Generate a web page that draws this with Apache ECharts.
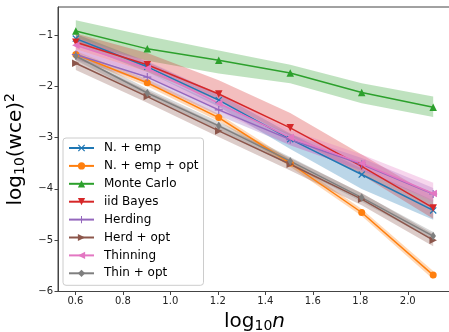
<!DOCTYPE html>
<html><head><meta charset="utf-8">
<script src="https://cdn.jsdelivr.net/npm/echarts@6/dist/echarts.min.js"></script>
<style>html,body{margin:0;padding:0;background:#fff}#c{width:449px;height:332px}</style>
</head><body><div id="c"></div>
<script>
// x positions: log10 n for n = 4, 8, 16, 32, 64, 128
const xs = [0.602, 0.903, 1.204, 1.505, 1.806, 2.107];
const xTicks = [0.6, 0.8, 1.0, 1.2, 1.4, 1.6, 1.8, 2.0];
const yTicks = [-6, -5, -4, -3, -2, -1];

const names = ['N. + emp', 'N. + emp + opt', 'Monte Carlo', 'iid Bayes', 'Herding', 'Herd + opt', 'Thinning', 'Thin + opt'];
const colors = ['#1f77b4', '#ff7f0e', '#2ca02c', '#d62728', '#9467bd', '#8c564b', '#e377c2', '#7f7f7f'];

// means
const nEmp      = [-1.07, -1.62, -2.27, -3.03, -3.72, -4.42];
const nEmpOpt   = [-1.38, -1.93, -2.61, -3.50, -4.46, -5.68];
const monteCarlo= [-0.92, -1.27, -1.49, -1.74, -2.12, -2.41];
const iidBayes  = [-1.14, -1.58, -2.15, -2.81, -3.56, -4.37];
const herding   = [-1.38, -1.82, -2.46, -3.04, -3.52, -4.10];
const herdOpt   = [-1.55, -2.20, -2.87, -3.52, -4.20, -5.00];
const thinning  = [-1.20, -1.65, -2.33, -3.00, -3.50, -4.09];
const thinOpt   = [-1.41, -2.13, -2.77, -3.46, -4.17, -4.92];

// bands (lower, upper)
const nEmpLo = [-1.17, -1.72, -2.40, -3.22, -4.00, -4.60];
const nEmpHi = [-0.98, -1.52, -2.15, -2.92, -3.60, -4.22];
const nEmpOptLo = [-1.45, -2.00, -2.68, -3.57, -4.53, -5.76];
const nEmpOptHi = [-1.31, -1.86, -2.54, -3.43, -4.39, -5.60];
const mcLo = [-1.15, -1.50, -1.75, -1.94, -2.33, -2.60];
const mcHi = [-0.71, -1.02, -1.30, -1.58, -1.94, -2.20];
const iidLo = [-1.28, -1.72, -2.28, -2.97, -3.73, -4.58];
const iidHi = [-0.97, -1.35, -1.88, -2.52, -3.33, -4.14];
const herdLo = [-1.48, -1.92, -2.57, -3.15, -3.64, -4.22];
const herdHi = [-1.28, -1.72, -2.35, -2.93, -3.40, -3.98];
const herdOptLo = [-1.68, -2.32, -2.99, -3.64, -4.32, -5.12];
const herdOptHi = [-1.42, -2.08, -2.75, -3.40, -4.08, -4.88];
const thinLo = [-1.35, -1.80, -2.48, -3.15, -3.65, -4.25];
const thinHi = [-1.05, -1.50, -2.15, -2.85, -3.33, -3.88];
const thinOptLo = [-1.49, -2.21, -2.85, -3.54, -4.25, -5.00];
const thinOptHi = [-1.33, -2.05, -2.69, -3.38, -4.09, -4.84];

const means = [nEmp, nEmpOpt, monteCarlo, iidBayes, herding, herdOpt, thinning, thinOpt];
const los = [nEmpLo, nEmpOptLo, mcLo, iidLo, herdLo, herdOptLo, thinLo, thinOptLo];
const his = [nEmpHi, nEmpOptHi, mcHi, iidHi, herdHi, herdOptHi, thinHi, thinOptHi];

const symbols = [
  'path://M0,1.2L1.2,0L5,3.8L8.8,0L10,1.2L6.2,5L10,8.8L8.8,10L5,6.2L1.2,10L0,8.8L3.8,5Z',
  'circle',
  'triangle',
  'path://M0,0L10,0L5,10Z',
  'path://M4.3,0H5.7V4.3H10V5.7H5.7V10H4.3V5.7H0V4.3H4.3Z',
  'path://M0,0L10,5L0,10Z',
  'path://M10,0L0,5L10,10Z',
  'diamond'
];
const sizes = [7, 7, 7.5, 7.5, 8, 7.5, 7.5, [5.5, 8.5]];

function rgba(hex, a) {
  const n = parseInt(hex.slice(1), 16);
  return 'rgba(' + (n >> 16) + ',' + ((n >> 8) & 255) + ',' + (n & 255) + ',' + a + ')';
}

const series = [];
means.forEach(function (m, k) {
  const lo = los[k], hi = his[k];
  series.push({
    type: 'custom', z: 1, silent: true, animation: false,
    data: xs.map(function (x, i) { return [x, lo[i], hi[i]]; }),
    encode: { x: 0, y: [1, 2] },
    renderItem: function (params, api) {
      if (params.dataIndex !== 0) return null;
      const pts = [];
      for (let i = 0; i < xs.length; i++) pts.push(api.coord([xs[i], hi[i]]));
      for (let i = xs.length - 1; i >= 0; i--) pts.push(api.coord([xs[i], lo[i]]));
      return { type: 'polygon', shape: { points: pts }, style: { fill: rgba(colors[k], 0.3), stroke: null } };
    }
  });
});
means.forEach(function (m, k) {
  series.push({
    type: 'line', name: names[k], z: 2, animation: false,
    data: xs.map(function (x, i) { return [x, m[i]]; }),
    symbol: symbols[k], symbolSize: sizes[k], showAllSymbol: true,
    lineStyle: { width: 1.5, color: colors[k] },
    itemStyle: { color: colors[k] },
    emphasis: { disabled: true }
  });
});

const fam = 'DejaVu Sans';
const chart = echarts.init(document.getElementById('c'), null, { renderer: 'canvas' });
chart.setOption({
  backgroundColor: '#ffffff',
  animation: false,
  grid: { left: 58, right: -2, top: 7, bottom: 40.5, show: true, borderColor: '#444', borderWidth: 1, backgroundColor: 'transparent', outerBoundsMode: 'none', containLabel: false },
  legend: {
    orient: 'vertical', left: 63, top: 138,
    data: names,
    itemWidth: 25, itemHeight: 9, itemGap: 5.9,
    padding: [4, 5, 6, 5],
    backgroundColor: 'rgba(255,255,255,0.8)', borderColor: '#cccccc', borderWidth: 1, borderRadius: 3,
    textStyle: { fontFamily: fam, fontSize: 12, color: '#000', padding: [0, 0, 0, 5] },
    selectedMode: false
  },
  xAxis: {
    type: 'value', min: 0.527, max: 2.182,
    name: '{b|log}{s|10}{i|n}', nameLocation: 'middle', nameGap: 16,
    nameTextStyle: {
      rich: {
        b: { fontFamily: fam, fontSize: 20, lineHeight: 24, color: '#000' },
        s: { fontFamily: fam, fontSize: 14, lineHeight: 14, verticalAlign: 'bottom', color: '#000' },
        i: { fontFamily: fam, fontSize: 20, lineHeight: 24, fontStyle: 'italic', color: '#000' }
      }
    },
    axisLine: { show: true, onZero: false, lineStyle: { color: '#444', width: 1 } },
    axisTick: { show: true, length: 3.5, lineStyle: { color: '#444', width: 1 }, customValues: xTicks },
    axisLabel: { show: true, customValues: xTicks, margin: 5, fontFamily: fam, fontSize: 10, color: '#222', formatter: function (v) { return v.toFixed(1); } },
    splitLine: { show: false }
  },
  yAxis: {
    type: 'value', min: -6.0, max: -0.454,
    name: '{b|log}{s|10}{b|(wce)}{p|2}', nameLocation: 'middle', nameGap: 29, nameRotate: 90,
    nameTextStyle: {
      rich: {
        b: { fontFamily: fam, fontSize: 20, lineHeight: 24, color: '#000' },
        s: { fontFamily: fam, fontSize: 14, lineHeight: 14, verticalAlign: 'bottom', color: '#000' },
        p: { fontFamily: fam, fontSize: 14, lineHeight: 14, verticalAlign: 'top', color: '#000' }
      }
    },
    axisLine: { show: true, onZero: false, lineStyle: { color: '#444', width: 1 } },
    axisTick: { show: true, length: 3.5, lineStyle: { color: '#444', width: 1 }, customValues: yTicks },
    axisLabel: { show: true, customValues: yTicks, margin: 5, fontFamily: fam, fontSize: 10, color: '#222', formatter: function (v) { return (v < 0 ? '\u2212' : '') + Math.abs(v); } },
    splitLine: { show: false }
  },
  series: series
});
</script></body></html>
